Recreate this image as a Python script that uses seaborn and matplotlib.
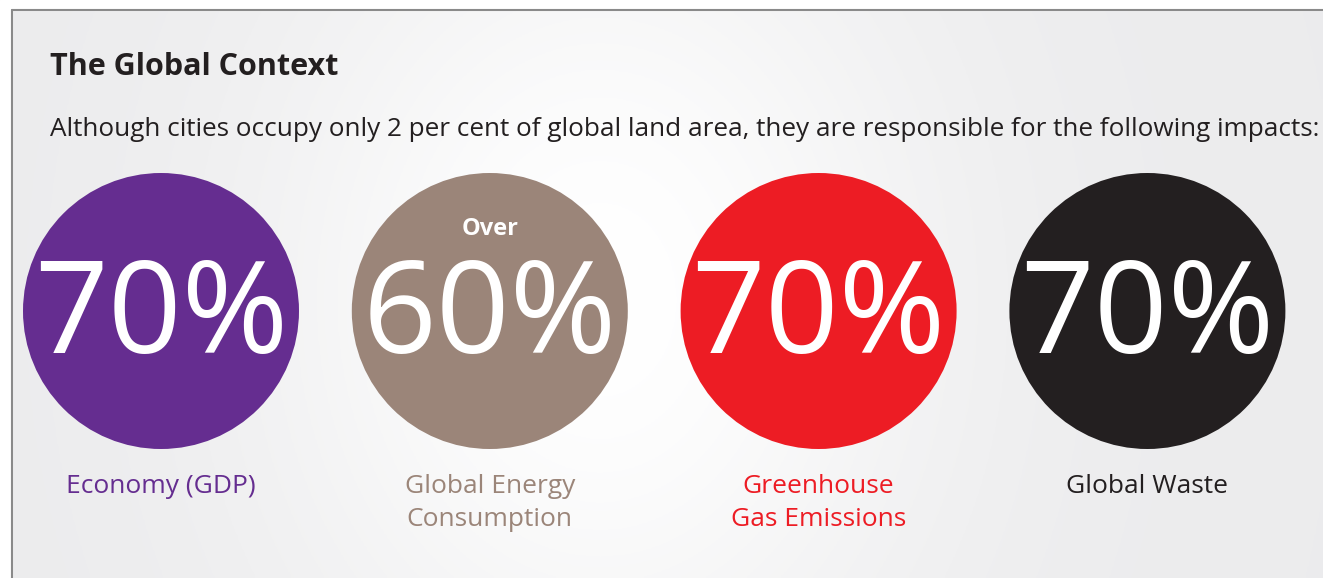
import numpy as np
import pandas as pd
import matplotlib.pyplot as plt
import seaborn as sns

# Data read from the infographic
impacts = ['Economy (GDP)', 'Global Energy\nConsumption', 'Greenhouse\nGas Emissions', 'Global Waste']
shares = [70, 60, 70, 70]
prefixes = ['', 'Over', '', '']
colours = ['#652d90', '#9b8579', '#ed1c24', '#231f20']

title = 'The Global Context'
subtitle = ('Although cities occupy only 2 per cent of global land area, '
            'they are responsible for the following impacts:')

df = pd.DataFrame({'impact': impacts, 'share': shares, 'prefix': prefixes,
                   'pos': np.arange(len(impacts)), 'row': 311})

sns.set_style('white')
plt.rcParams['font.family'] = ['Open Sans', 'DejaVu Sans']

W, H = 1323, 578
fig = plt.figure(figsize=(W / 100, H / 100), dpi=100)
ax = fig.add_axes([0, 0, 1, 1])

# x in category units, y in pixels
step = 328.8
x0 = 161
xl = (-x0 / step, (W - x0) / step)
ax.set_xlim(*xl)
ax.set_ylim(H, 0)
ax.axis('off')

def px(x):
    return (x - x0) / step

# soft background glow
gx, gy = np.meshgrid(np.linspace(0, W, 400), np.linspace(0, H, 200))
glow = np.exp(-((gx - 600) / 330) ** 2 - ((gy - 300) / 420) ** 2)
base = np.array([0.925, 0.925, 0.93])
img = base + (1 - base) * glow[..., None]
ax.imshow(img, extent=(xl[0], xl[1], H, 0), aspect='auto', zorder=0)

# white strip at the top and left outside the frame
ax.axhspan(0, 10, color='white', zorder=1)
ax.axvspan(xl[0], px(12), color='white', zorder=1)
ax.plot([px(12), xl[1]], [10, 10], color='#8a8a8a', lw=1.5, zorder=2)
ax.plot([px(12), px(12)], [10, H], color='#8a8a8a', lw=1.5, zorder=2)

# circles
diam_pt = 276 * 72 / 100
sns.scatterplot(data=df, x='pos', y='row', hue='impact', palette=colours,
                s=diam_pt ** 2, linewidth=0, legend=False, ax=ax, zorder=3)

for _, r in df.iterrows():
    ax.text(r['pos'], 320, f"{r['share']}%", color='white', fontsize=93,
            ha='center', va='center', zorder=4)
    if r['prefix']:
        ax.text(r['pos'], 229, r['prefix'], color='white', fontsize=17,
                fontweight='bold', ha='center', va='center', zorder=4)
    ax.text(r['pos'], 474, r['impact'], color=colours[r['pos']], fontsize=19,
            ha='center', va='top', linespacing=1.42, zorder=4)

fig.text(50 / W, 1 - 67 / H, title, fontsize=22, fontweight='bold',
         color='#231f20', ha='left', va='center')
fig.text(50 / W, 1 - 130 / H, subtitle, fontsize=18.8, color='#231f20',
         ha='left', va='center')

fig.savefig('out.png', dpi=100)
